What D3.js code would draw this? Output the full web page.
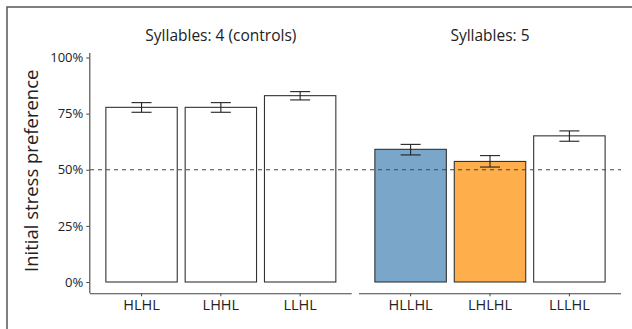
<!DOCTYPE html>
<html>
<head>
<meta charset="utf-8">
<script src="https://cdn.jsdelivr.net/npm/d3@7"></script>
<style>
  html, body { margin: 0; padding: 0; background: #fff; }
  svg { display: block; font-family: "Open Sans", "DejaVu Sans", sans-serif; }
</style>
</head>
<body>
<svg id="chart" width="632" height="329"></svg>
<script>
// Panels (facets) and their categories
const panelTitles = ["Syllables: 4 (controls)", "Syllables: 5"];
const panelCategories = [
  ["HLHL", "LHHL", "LLHL"],
  ["HLLHL", "LHLHL", "LLLHL"]
];
// Mean initial-stress preference and standard-error bounds
const panelMeans = [
  [0.778, 0.778, 0.830],
  [0.591, 0.537, 0.651]
];
const panelLower = [
  [0.756, 0.756, 0.811],
  [0.566, 0.512, 0.627]
];
const panelUpper = [
  [0.799, 0.799, 0.848],
  [0.613, 0.563, 0.673]
];
const panelFills = [
  ["#ffffff", "#ffffff", "#ffffff"],
  ["#7aa6ca", "#feae4b", "#ffffff"]
];
const yTicks = [0, 0.25, 0.5, 0.75, 1];
const chanceLevel = 0.5;

const svg = d3.select("#chart");

// Outer frame
svg.append("rect")
  .attr("x", 7).attr("y", 7).attr("width", 660).attr("height", 360)
  .attr("fill", "none").attr("stroke", "#555").attr("stroke-width", 1.5);

const y = d3.scaleLinear().domain([0, 1]).range([282, 57.5]);

const panelRanges = [[90, 351.7], [359, 621]];

const axisColor = "#444";

panelCategories.forEach((cats, p) => {
  const [x0, x1] = panelRanges[p];
  const x = d3.scaleBand().domain(cats).range([x0, x1]).paddingInner(0.1).paddingOuter(0.2);
  const g = svg.append("g");

  // strip title
  g.append("text")
    .attr("x", (x0 + x1) / 2).attr("y", 41)
    .attr("text-anchor", "middle")
    .attr("font-size", 15.5).attr("fill", "#222")
    .text(panelTitles[p]);

  // bars
  g.selectAll("rect.bar").data(cats).enter().append("rect")
    .attr("class", "bar")
    .attr("x", d => x(d))
    .attr("width", x.bandwidth())
    .attr("y", (d, i) => y(panelMeans[p][i]))
    .attr("height", (d, i) => y(0) - y(panelMeans[p][i]))
    .attr("fill", (d, i) => panelFills[p][i])
    .attr("stroke", "#333").attr("stroke-width", 1.1);

  // error bars
  const capW = 20;
  cats.forEach((c, i) => {
    const cx = x(c) + x.bandwidth() / 2;
    const eg = g.append("g").attr("stroke", "#222").attr("stroke-width", 1.1);
    eg.append("line").attr("x1", cx).attr("x2", cx)
      .attr("y1", y(panelLower[p][i])).attr("y2", y(panelUpper[p][i]));
    eg.append("line").attr("x1", cx - capW / 2).attr("x2", cx + capW / 2)
      .attr("y1", y(panelLower[p][i])).attr("y2", y(panelLower[p][i]));
    eg.append("line").attr("x1", cx - capW / 2).attr("x2", cx + capW / 2)
      .attr("y1", y(panelUpper[p][i])).attr("y2", y(panelUpper[p][i]));
  });

  // x axis
  const xa = g.append("g")
    .attr("transform", "translate(0,293.3)")
    .call(d3.axisBottom(x).tickSize(3).tickSizeOuter(0).tickPadding(3));
  xa.select(".domain").attr("stroke", axisColor).attr("stroke-width", 1.1)
    .attr("d", `M${x0},0.5H${x1}`);
  xa.selectAll(".tick line").attr("stroke", axisColor);
  xa.selectAll(".tick text").attr("font-size", 14.5).attr("fill", "#222")
    .attr("font-family", "\"Open Sans\", sans-serif");

  // y axis only on first panel
  if (p === 0) {
    const ya = svg.append("g")
      .attr("transform", "translate(89.3,0)")
      .call(d3.axisLeft(y).tickValues(yTicks).tickFormat(d3.format(".0%")).tickSize(3).tickPadding(3));
    ya.select(".domain").attr("stroke", axisColor).attr("stroke-width", 1.1)
      .attr("d", `M0.5,${y(1.02)}V293.3`);
    ya.selectAll(".tick line").attr("stroke", axisColor);
    ya.selectAll(".tick text").attr("font-size", 13).attr("fill", "#222")
      .attr("font-family", "\"Open Sans\", sans-serif");
  }
});

// chance reference line across both panels
svg.append("line")
  .attr("x1", 90).attr("x2", 621)
  .attr("y1", y(chanceLevel)).attr("y2", y(chanceLevel))
  .attr("stroke", "#444").attr("stroke-width", 1.1)
  .attr("stroke-dasharray", "4,4");

// y axis title
svg.append("text")
  .attr("transform", `translate(38,${(y(0) + y(1)) / 2 + 1}) rotate(-90)`)
  .attr("text-anchor", "middle")
  .attr("font-size", 18.5).attr("fill", "#222")
  .text("Initial stress preference");
</script>
</body>
</html>
